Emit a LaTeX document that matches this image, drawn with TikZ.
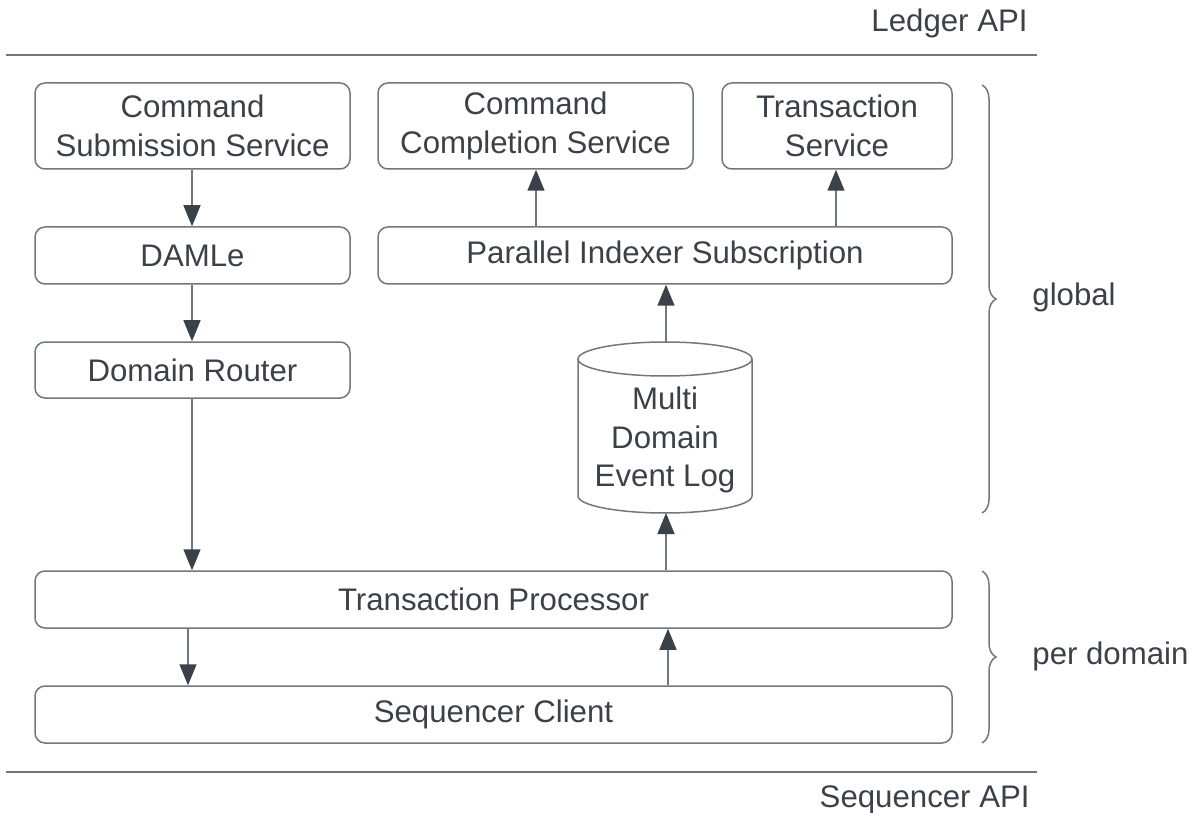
\documentclass[tikz,border=0pt]{standalone}
\usepackage{fontspec}
\setmainfont{Liberation Sans}
\usepackage{tikz}
\usetikzlibrary{arrows.meta, decorations.pathreplacing}

\definecolor{linegray}{HTML}{72777D}
\definecolor{textdark}{HTML}{3B4149}

\begin{document}
\begin{tikzpicture}[
    x=0.5pt, y=-0.5pt,
    font=\fontsize{15.6}{19.4}\selectfont,
    text=textdark,
    box/.style={draw=linegray, line width=0.75pt, rounded corners=5pt, align=center, inner sep=0pt},
    flow/.style={draw=linegray, line width=0.75pt, -{Triangle[length=10.5pt, width=8.5pt, color=textdark]}},
    bar/.style={draw=linegray, line width=0.75pt},
    curly/.style={draw=linegray, line width=0.75pt, decorate, decoration={brace, amplitude=7pt}},
    tag/.style={inner sep=0pt}
]

% Frame
\useasboundingbox (0,0) rectangle (1196,813);

% API layers
\draw[bar] (6,55) -- (1037,55);
\draw[bar] (6,772) -- (1037,772);
\node[tag, anchor=east] (ledger) at (1028,23) {Ledger API};
\node[tag, anchor=east] (sequencer) at (1030,800) {Sequencer API};

% Left column
\node[box, minimum width=157.5pt, minimum height=43pt] (submit) at (192.5,126) {Command\\Submission Service};
\node[box, minimum width=157.5pt, minimum height=28.5pt] (damle) at (192.5,255.5) {DAMLe};
\node[box, minimum width=157.5pt, minimum height=28pt] (router) at (192.5,370) {Domain Router};

% Right column
\node[box, minimum width=157.5pt, minimum height=43pt] (completion) at (535.5,126) {Command\\Completion Service};
\node[box, minimum width=115pt, minimum height=43pt] (txservice) at (837,126) {Transaction\\Service};
\node[box, minimum width=287pt, minimum height=28.5pt] (indexer) at (665,255.5) {Parallel Indexer Subscription};

% Event log (cylinder)
\draw[bar] (578,359) -- (578,496) arc[start angle=180, end angle=360, x radius=43.5pt, y radius=8.5pt] -- (752,359);
\draw[bar] (665,359) ellipse[x radius=43.5pt, y radius=8.5pt];
\node[align=center] (eventlog) at (665,440) {Multi\\Domain\\Event Log};
\coordinate (logtop) at (666,342);
\coordinate (logbottom) at (666,513);

% Per domain
\node[box, minimum width=458.5pt, minimum height=28.5pt] (processor) at (493.5,599.5) {Transaction Processor};
\node[box, minimum width=458.5pt, minimum height=28.5pt] (client) at (493.5,714.5) {Sequencer Client};

% Connectors
\draw[flow] (submit.south -| 192,0) -- (damle.north -| 192,0);
\draw[flow] (damle.south -| 192,0) -- (router.north -| 192,0);
\draw[flow] (router.south -| 192,0) -- (processor.north -| 192,0);
\draw[flow] (processor.south -| 188,0) -- (client.north -| 188,0);
\draw[flow] (client.north -| 668,0) -- (processor.south -| 668,0);
\draw[flow] (processor.north -| 666,0) -- (logbottom);
\draw[flow] (logtop) -- (indexer.south -| 666,0);
\draw[flow] (indexer.north -| 536,0) -- (completion.south -| 536,0);
\draw[flow] (indexer.north -| 836,0) -- (txservice.south -| 836,0);

% Braces
\draw[curly] (982,85) -- (982,513);
\draw[curly] (982,571) -- (982,743);
\node[tag, anchor=west] (global) at (1032,297) {global};
\node[tag, anchor=west] (perdomain) at (1032,656) {per domain};

\end{tikzpicture}
\end{document}
